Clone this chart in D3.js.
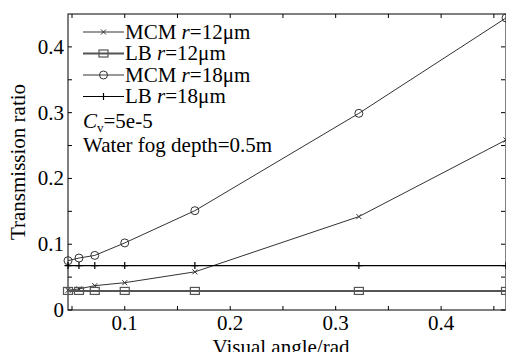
<!DOCTYPE html>
<html>
<head>
<meta charset="utf-8">
<script src="https://cdn.jsdelivr.net/npm/d3@7"></script>
<style>
    body { margin: 0; background: #fff; }
    svg { display: block; }
    text { font-family: "Liberation Serif", "Times New Roman", serif; fill: #000; }
</style>
</head>
<body>
<svg id="chart" width="506" height="352"></svg>
<script>
// visual angle (rad) of each computed point
const angles = [0.0462, 0.0566, 0.0716, 0.1, 0.1665, 0.322, 0.4615];

const mcm12 = [0.030, 0.032, 0.037, 0.0415, 0.058, 0.142, 0.2585];
const lb12 = [0.029, 0.029, 0.029, 0.029, 0.029, 0.029, 0.029];
const mcm18 = [0.075, 0.079, 0.083, 0.102, 0.151, 0.299, 0.444];
const lb18 = [0.0675, 0.0675, 0.0675, 0.0675, 0.0675, 0.0675, 0.0675];

const xMajorTicks = [0.1, 0.2, 0.3, 0.4];
const xMinorTicks = [0.05, 0.15, 0.25, 0.35, 0.45];
const yMajorTicks = [0, 0.1, 0.2, 0.3, 0.4];
const yMinorTicks = [0.05, 0.15, 0.25, 0.35];

const series = [
    { label: "MCM", r: "12", values: mcm12, marker: "x", color: "#333", width: 1 },
    { label: "LB", r: "12", values: lb12, marker: "square", color: "#555", width: 2 },
    { label: "MCM", r: "18", values: mcm18, marker: "circle", color: "#333", width: 1 },
    { label: "LB", r: "18", values: lb18, marker: "plus", color: "#000", width: 1.2 }
];

const margins = { left: 68, right: 506, top: 14, bottom: 310 };
const svg = d3.select("#chart");

const xScale = d3.scaleLinear().domain([0.0462, 0.4615]).range([margins.left, margins.right]);
const yScale = d3.scaleLinear().domain([0, 0.45]).range([margins.bottom, margins.top]);

const drawMarker = (g, kind, x, y, color) => {
    if (kind === "circle") {
        g.append("circle").attr("cx", x).attr("cy", y).attr("r", 4)
            .attr("fill", "none").attr("stroke", color).attr("stroke-width", 1);
    } else if (kind === "square") {
        g.append("rect").attr("x", x - 4.5).attr("y", y - 3.5).attr("width", 9).attr("height", 7)
            .attr("fill", "none").attr("stroke", color).attr("stroke-width", 1.2);
    } else if (kind === "x") {
        const s = 2.5;
        g.append("path").attr("d", `M${x - s},${y - s}L${x + s},${y + s}M${x - s},${y + s}L${x + s},${y - s}`)
            .attr("stroke", color).attr("stroke-width", 1);
    } else if (kind === "plus") {
        g.append("path").attr("d", `M${x},${y - 3.5}L${x},${y + 3.5}M${x - 3.5},${y}L${x + 3.5},${y}`)
            .attr("stroke", color).attr("stroke-width", 1.2);
    }
};

// ticks point inward on all four sides, MATLAB style box
const tickLen = 4;
const axes = svg.append("g").attr("stroke", "#000").attr("stroke-width", 1);

axes.append("rect")
    .attr("x", margins.left).attr("y", margins.top)
    .attr("width", margins.right - margins.left).attr("height", margins.bottom - margins.top)
    .attr("fill", "none");

xMajorTicks.concat(xMinorTicks).forEach(t => {
    const x = xScale(t);
    axes.append("line").attr("x1", x).attr("x2", x).attr("y1", margins.bottom).attr("y2", margins.bottom - tickLen);
    axes.append("line").attr("x1", x).attr("x2", x).attr("y1", margins.top).attr("y2", margins.top + tickLen);
});
yMajorTicks.concat(yMinorTicks).forEach(t => {
    const y = yScale(t);
    axes.append("line").attr("y1", y).attr("y2", y).attr("x1", margins.left).attr("x2", margins.left + tickLen);
    axes.append("line").attr("y1", y).attr("y2", y).attr("x1", margins.right - 1).attr("x2", margins.right - 1 - tickLen);
});

svg.append("g").selectAll("text")
    .data(xMajorTicks).join("text")
    .attr("x", d => xScale(d)).attr("y", 330)
    .attr("text-anchor", "middle").attr("font-size", 21)
    .text(d => d.toFixed(1));

svg.append("g").selectAll("text")
    .data(yMajorTicks).join("text")
    .attr("x", 64).attr("y", d => yScale(d)).attr("dy", "0.33em")
    .attr("text-anchor", "end").attr("font-size", 21)
    .text(d => d === 0 ? "0" : d.toFixed(1));

svg.append("text")
    .attr("x", (margins.left + margins.right) / 2 - 6).attr("y", 354)
    .attr("text-anchor", "middle").attr("font-size", 21)
    .text("Visual angle/rad");

svg.append("text")
    .attr("transform", `translate(25,${(margins.top + margins.bottom) / 2}) rotate(-90)`)
    .attr("text-anchor", "middle").attr("font-size", 21)
    .text("Transmission ratio");

const line = d3.line().x((d, i) => xScale(angles[i])).y(d => yScale(d));

series.forEach(s => {
    svg.append("path")
        .datum(s.values)
        .attr("d", line)
        .attr("fill", "none")
        .attr("stroke", s.color)
        .attr("stroke-width", s.width);
    const mg = svg.append("g");
    s.values.forEach((v, i) => drawMarker(mg, s.marker, xScale(angles[i]), yScale(v), s.color));
});

// legend
const legend = svg.append("g");
series.forEach((s, i) => {
    const y = 32 + i * 21.5;
    legend.append("line").attr("x1", 83).attr("x2", 124).attr("y1", y).attr("y2", y)
        .attr("stroke", s.color).attr("stroke-width", s.width);
    drawMarker(legend, s.marker, 103.5, y, s.color);
    const t = legend.append("text").attr("x", 125).attr("y", y + 6.5).attr("font-size", 21);
    t.append("tspan").text(s.label + " ");
    t.append("tspan").attr("font-style", "italic").text("r");
    t.append("tspan").text("=" + s.r + "μm");
});

const cv = svg.append("text").attr("x", 83).attr("y", 128).attr("font-size", 21);
cv.append("tspan").attr("font-style", "italic").text("C");
cv.append("tspan").attr("font-size", 13).attr("dy", 4).text("v");
cv.append("tspan").attr("dy", -4).text("=5e-5");

svg.append("text").attr("x", 83).attr("y", 152).attr("font-size", 21)
    .text("Water fog depth=0.5m");
</script>
</body>
</html>
